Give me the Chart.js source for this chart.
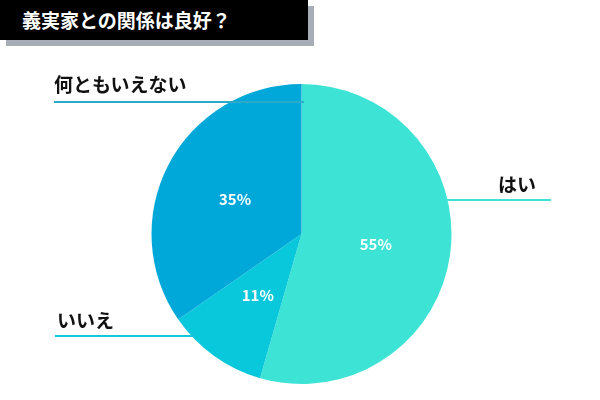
<!DOCTYPE html><html><head><meta charset="utf-8">
<script src="https://cdn.jsdelivr.net/npm/chart.js@4"></script>
<style>
body{margin:0;width:600px;height:400px;background:#fff;position:relative;overflow:hidden;font-family:"Noto Sans CJK JP",sans-serif}
#c{position:absolute;left:0;top:0}
.t{position:absolute;font-weight:bold;color:#111;font-size:19px;line-height:24px}
.ln{position:absolute;height:2px;background:#2ba9c9}
</style></head><body>
<div style="position:absolute;left:6px;top:6px;width:308px;height:40px;background:#a6adb6"></div>
<div style="position:absolute;left:0;top:0;width:308px;height:40px;background:#000;color:#fff;font-weight:bold;font-size:19px;line-height:40px;padding-left:22px;box-sizing:border-box">義実家との関係は良好？</div>
<canvas id="c" width="600" height="400"></canvas>
<div class="t" style="left:54px;top:72px">何ともいえない</div>
<div class="ln" style="left:54px;top:101px;width:250px"></div>
<div class="t" style="left:498px;top:172px">はい</div>
<div class="ln" style="left:447px;top:199px;width:104px;background:#3de3d5"></div>
<div class="t" style="left:57px;top:308px">いいえ</div>
<div class="ln" style="left:55px;top:335px;width:140px;background:#17c6dc"></div>
<script>
const categories=["はい","いいえ","何ともいえない"];
const values=[55,11,35];
const labels=["55%","11%","35%"];
const colors=["#3de3d5","#0ac8dc","#00a8da"];
const pctPlugin={id:"pct",afterDatasetsDraw(ch){const ctx=ch.ctx;ch.getDatasetMeta(0).data.forEach((a,i)=>{const p=a.tooltipPosition();ctx.save();ctx.fillStyle="#fff";ctx.font="bold 15px 'Noto Sans CJK JP'";ctx.textAlign="center";ctx.textBaseline="middle";ctx.fillText(labels[i],p.x,p.y);ctx.restore();});}};
new Chart(document.getElementById("c"),{type:"pie",data:{labels:categories,datasets:[{data:values,backgroundColor:colors,borderWidth:0}]},
options:{responsive:false,animation:false,events:[],layout:{padding:{left:151,right:148,top:84,bottom:16}},plugins:{legend:{display:false},tooltip:{enabled:false}}},plugins:[pctPlugin]});
</script></body></html>
